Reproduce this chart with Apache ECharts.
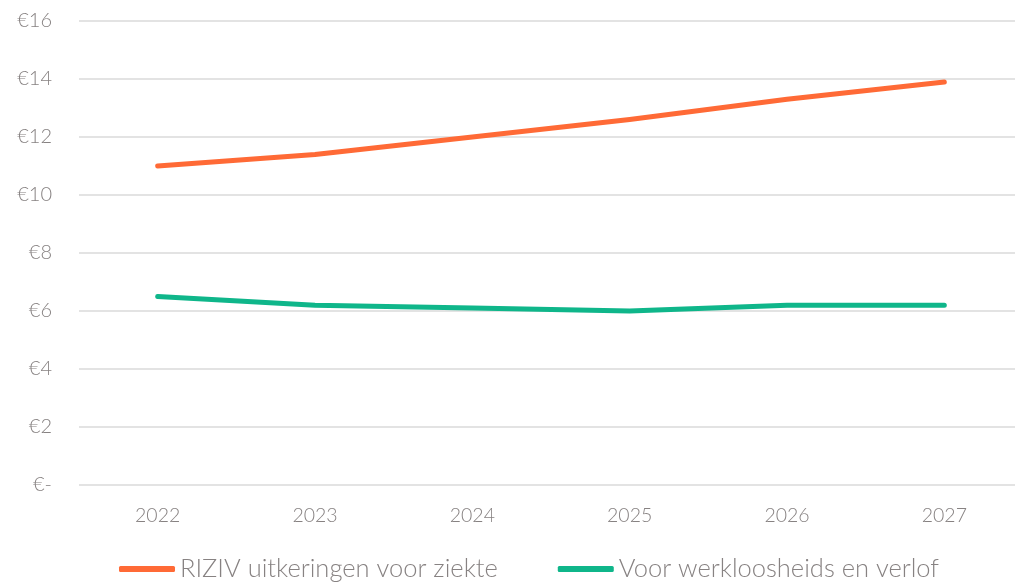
<!DOCTYPE html>
<html>
<head>
<meta charset="utf-8">
<script src="https://cdn.jsdelivr.net/npm/echarts@6/dist/echarts.min.js"></script>
<style>
html,body{margin:0;padding:0;background:#fff;}
#chart{width:1015px;height:588px;}
</style>
</head>
<body>
<div id="chart"></div>
<script>
const categories = ['2022','2023','2024','2025','2026','2027'];
const rizivValues = [11.0, 11.4, 12.0, 12.6, 13.3, 13.9];
const werkloosValues = [6.5, 6.2, 6.1, 6.0, 6.2, 6.2];
const seriesNames = ['RIZIV uitkeringen voor ziekte', 'Voor werkloosheids en verlof'];

const chart = echarts.init(document.getElementById('chart'));
const labelColor = '#878282';
const font = 'Lato, "Open Sans", sans-serif';
chart.setOption({
  animation: false,
  grid: {left: 79, width: 944, top: 21, bottom: 103, containLabel: false, outerBoundsMode: 'none'},
  legend: {
    bottom: 1,
    left: 114,
    icon: 'roundRect',
    itemWidth: 56,
    itemHeight: 6,
    itemGap: 60,
    textStyle: {color: labelColor, fontSize: 25.5, fontFamily: font, fontWeight: 300},
    data: seriesNames
  },
  xAxis: {
    type: 'category',
    data: categories,
    boundaryGap: true,
    axisLine: {show: false},
    axisTick: {show: false},
    axisLabel: {color: labelColor, fontSize: 19.5, fontFamily: font, fontWeight: 300, margin: 21}
  },
  yAxis: {
    type: 'value',
    min: 0, max: 16, interval: 2,
    axisLine: {show: false},
    axisTick: {show: false},
    splitLine: {lineStyle: {color: '#e3e3e3', width: 2}},
    axisLabel: {
      color: labelColor, fontSize: 20, fontFamily: font, fontWeight: 300, margin: 27,
      formatter: v => v === 0 ? '€-' : '€' + v
    }
  },
  series: [
    {name: seriesNames[0], type: 'line', data: rizivValues, symbol: 'none',
     itemStyle: {color: '#ff6a36'},
     lineStyle: {color: '#ff6a36', width: 5, cap: 'round', join: 'round'}},
    {name: seriesNames[1], type: 'line', data: werkloosValues, symbol: 'none',
     itemStyle: {color: '#0fb68a'},
     lineStyle: {color: '#0fb68a', width: 5, cap: 'round', join: 'round'}}
  ]
});
</script>
</body>
</html>
